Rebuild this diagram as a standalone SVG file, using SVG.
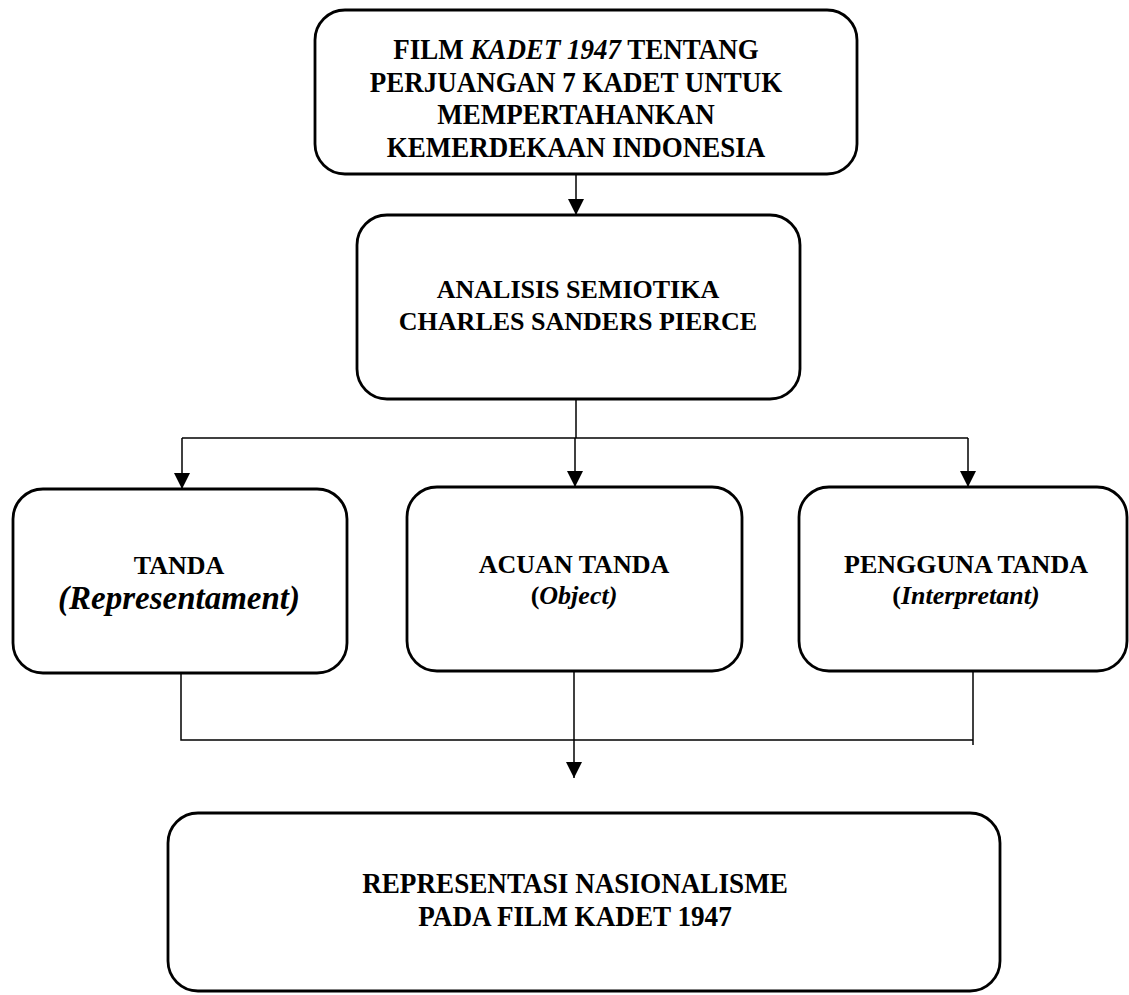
<svg xmlns="http://www.w3.org/2000/svg" width="1129" height="995" viewBox="0 0 1129 995">
<style>
.box{fill:#fff;stroke:#000;stroke-width:2.8}
.t{font-family:"Liberation Serif","Times New Roman",serif;font-weight:bold;fill:#000;text-anchor:middle}
.c{fill:none;stroke:#000;stroke-width:1.5}
</style>
<defs>
<marker id="ah" markerWidth="16" markerHeight="16" viewBox="0 0 16 16" refX="16" refY="8" orient="auto" markerUnits="userSpaceOnUse">
<path d="M0,0 L16,8 L0,16 Z" fill="#000"/>
</marker>
</defs>
<rect width="1129" height="995" fill="#fff"/>
<g id="connectors">
<path class="c" d="M576,174 V215" marker-end="url(#ah)"/>
<path class="c" d="M576,399 V438"/>
<path class="c" d="M182,438 H968"/>
<path class="c" d="M182,438 V489" marker-end="url(#ah)"/>
<path class="c" d="M575,438 V487" marker-end="url(#ah)"/>
<path class="c" d="M968,438 V487" marker-end="url(#ah)"/>
<path class="c" d="M181,673 V740 H973"/>
<path class="c" d="M973,671 V745"/>
<path class="c" d="M574,671 V778" marker-end="url(#ah)"/>
</g>
<g id="n1">
<rect class="box" x="315" y="10" width="542" height="164" rx="30"/>
<g transform="translate(576,0) scale(1,1.08)">
<text class="t" font-size="27" x="0" y="55">FILM <tspan font-style="italic">KADET 1947</tspan> TENTANG</text>
<text class="t" font-size="27" x="0" y="85">PERJUANGAN 7 KADET UNTUK</text>
<text class="t" font-size="27" x="0" y="115">MEMPERTAHANKAN</text>
<text class="t" font-size="27" x="0" y="145">KEMERDEKAAN INDONESIA</text>
</g>
</g>
<g id="n2">
<rect class="box" x="357" y="215" width="443" height="184" rx="30"/>
<text class="t" font-size="26" x="578" y="298">ANALISIS SEMIOTIKA</text>
<text class="t" font-size="26" x="578" y="330">CHARLES SANDERS PIERCE</text>
</g>
<g id="n3">
<rect class="box" x="13" y="489" width="334" height="184" rx="30"/>
<text class="t" font-size="26" x="179" y="574">TANDA</text>
<text class="t" font-size="33" font-style="italic" x="179" y="609">(Representament)</text>
</g>
<g id="n4">
<rect class="box" x="407" y="487" width="335" height="184" rx="30"/>
<text class="t" font-size="26" x="574" y="573">ACUAN TANDA</text>
<text class="t" font-size="26" x="574" y="604">(<tspan font-style="italic">Object)</tspan></text>
</g>
<g id="n5">
<rect class="box" x="799" y="487" width="328" height="184" rx="30"/>
<text class="t" font-size="26" x="966" y="573">PENGGUNA TANDA</text>
<text class="t" font-size="26" x="966" y="604">(<tspan font-style="italic">Interpretant)</tspan></text>
</g>
<g id="n6">
<rect class="box" x="168" y="813" width="832" height="178" rx="30"/>
<g transform="translate(575,893) scale(0.97,1.08)">
<text class="t" font-size="28" x="0" y="0">REPRESENTASI NASIONALISME</text>
<text class="t" font-size="28" x="0" y="30.5">PADA FILM KADET 1947</text>
</g>
</g>
</svg>
